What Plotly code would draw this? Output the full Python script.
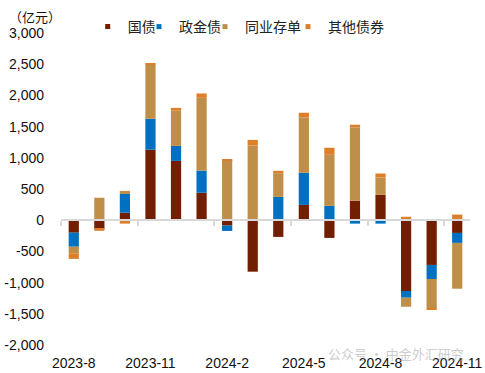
import plotly.graph_objects as go

months = ["2023-8", "2023-9", "2023-10", "2023-11", "2023-12", "2024-1", "2024-2", "2024-3",
          "2024-4", "2024-5", "2024-6", "2024-7", "2024-8", "2024-9", "2024-10", "2024-11"]

guozhai = [-200, -140, 120, 1130, 950, 440, -87, -825, -268, 245, -284, 310, 406, -1135, -717, -204]
zhengjinzhai = [-225, 0, 300, 495, 240, 355, -85, 0, 374, 514, 230, -55, -55, -107, -225, -160]
tongye = [-105, 360, 50, 865, 565, 1166, 963, 1197, 380, 888, 818, 1177, 278, -145, -466, -734]
qita = [-90, -30, -55, 25, 45, 70, 10, 90, 38, 75, 113, 43, 64, 55, -16, 90]

series_names = ["国债", "政金债", "同业存单", "其他债券"]
series_values = [guozhai, zhengjinzhai, tongye, qita]
colors = ["#721E00", "#0070C0", "#BF8F4A", "#DD7E2B"]

y_tickvals = [-2000, -1500, -1000, -500, 0, 500, 1000, 1500, 2000, 2500, 3000]
y_ticktext = ["-2,000", "-1,500", "-1,000", "-500", "0", "500", "1,000", "1,500", "2,000", "2,500", "3,000"]

x_idx = list(range(len(months)))
label_idx = x_idx[::3]
label_text = [months[i] for i in label_idx]
boundary_ticks = [i - 0.5 for i in label_idx]

FONT = "Liberation Sans, Arial, Noto Sans CJK SC, sans-serif"
CJK = "Noto Sans CJK SC, Microsoft YaHei, sans-serif"

fig = go.Figure()
for name, vals, col in zip(series_names, series_values, colors):
    fig.add_trace(go.Bar(x=x_idx, y=vals, name=name, marker=dict(color=col, line=dict(width=0)),
                         showlegend=False))

# legend entries (small square symbols)
legend_ids = ["legend", "legend2", "legend3", "legend4"]
for name, col, lg in zip(series_names, colors, legend_ids):
    fig.add_trace(go.Scatter(x=[None], y=[None], mode="markers", name=name,
                             marker=dict(symbol="square", size=5, color=col),
                             showlegend=True, legend=lg, xaxis="x2"))

legend_x = [112.7, 164, 230, 313]
layout_legends = {}
for lg, px in zip(legend_ids, legend_x):
    layout_legends[lg] = dict(x=(px - 25 - 61) / 409, y=1.0 + (33 - 27) / 312, xanchor="left", yanchor="middle",
                              orientation="h", font=dict(family=CJK, size=14, color="#222222"),
                              bgcolor="rgba(0,0,0,0)", borderwidth=0, itemwidth=30)

fig.update_layout(
    width=485, height=373,
    margin=dict(l=61, r=15, t=33, b=28, autoexpand=False),
    paper_bgcolor="white", plot_bgcolor="white",
    barmode="relative", bargap=0.6,
    font=dict(family=FONT, size=14, color="#111111"),
    xaxis=dict(range=[-0.5, 15.5], tickvals=label_idx, ticktext=label_text, showgrid=False,
               zeroline=False, showline=False, ticks="", ticklabelstandoff=8, automargin=False,
               tickfont=dict(family=FONT, size=14, color="#111111")),
    xaxis2=dict(overlaying="x", range=[-0.5, 15.5], anchor="free", position=0.4, side="bottom",
                showline=True, linecolor="#D9D9D9", linewidth=2, ticks="outside", ticklen=5,
                tickwidth=2, tickcolor="#D9D9D9", tickvals=boundary_ticks, showticklabels=False,
                showgrid=False, zeroline=False, automargin=False),
    yaxis=dict(range=[-2000, 3000], tickvals=y_tickvals, ticktext=y_ticktext, showgrid=False,
               zeroline=False, showline=False, ticks="", ticklabelstandoff=16, automargin=False,
               tickfont=dict(family=FONT, size=14, color="#111111")),
    **layout_legends,
    annotations=[
        dict(text="（亿元）", xref="paper", yref="paper", x=(7 - 61) / 409, y=1 + (33 - 17) / 312,
             xanchor="left", yanchor="middle", showarrow=False,
             font=dict(family=CJK, size=13, color="#111111")),
        dict(text="公众号 · 中金外汇研究", xref="paper", yref="paper", x=(326 - 61) / 409,
             y=-(353 - 345) / 312, xanchor="left", yanchor="middle", showarrow=False,
             font=dict(family=CJK, size=13, color="rgba(160,160,160,0.55)")),
    ],
)

fig.write_html("out.html", config={"displayModeBar": False},
               post_script="document.body.style.margin='0';")
